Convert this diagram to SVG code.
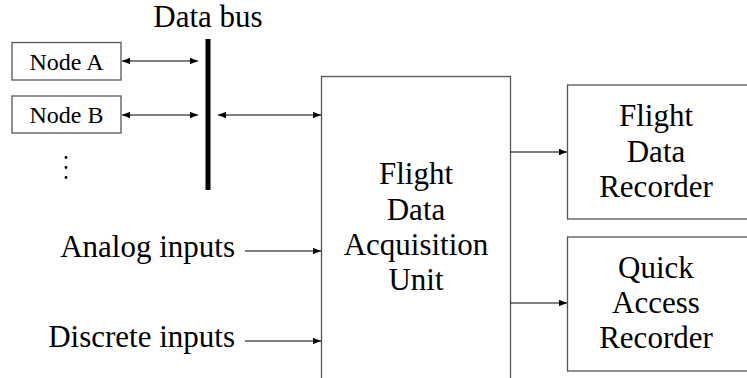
<svg xmlns="http://www.w3.org/2000/svg" width="747" height="378" viewBox="0 0 747 378">
<style>
.box{fill:#fff;stroke:#555;stroke-width:1.3}
.ln{stroke:#000;stroke-width:1.2;fill:none}
</style>
<defs>
<marker id="ah" viewBox="0 0 10 8" refX="10" refY="4" markerWidth="8" markerHeight="6.4" markerUnits="userSpaceOnUse" orient="auto-start-reverse">
<path d="M0,0 L10,4 L0,8 Z" fill="#000"/>
</marker>
</defs>
<g id="bus">
<text x="208" y="27" font-family="Liberation Serif" font-size="31" text-anchor="middle">Data bus</text>
<line x1="208" y1="39" x2="208" y2="190" stroke="#000" stroke-width="5"/>
</g>
<g id="nodeA">
<rect class="box" x="12" y="42.5" width="109" height="37.5"/>
<text x="66.5" y="69.5" font-family="Liberation Serif" font-size="24" text-anchor="middle">Node A</text>
</g>
<g id="nodeB">
<rect class="box" x="12" y="96" width="109" height="37"/>
<text x="66.5" y="123" font-family="Liberation Serif" font-size="24" text-anchor="middle">Node B</text>
</g>
<g id="dots">
<circle cx="66" cy="157.5" r="1.4"/>
<circle cx="66" cy="167.5" r="1.4"/>
<circle cx="66" cy="177.5" r="1.4"/>
</g>
<g id="fdau">
<rect class="box" x="321.5" y="76.5" width="189" height="320"/>
<text x="416" y="184" font-family="Liberation Serif" font-size="31" text-anchor="middle">Flight</text>
<text x="416" y="220" font-family="Liberation Serif" font-size="31" text-anchor="middle">Data</text>
<text x="416" y="255" font-family="Liberation Serif" font-size="31" text-anchor="middle">Acquisition</text>
<text x="416" y="290" font-family="Liberation Serif" font-size="31" text-anchor="middle">Unit</text>
</g>
<g id="fdr">
<rect class="box" x="567.5" y="85" width="200" height="134"/>
<text x="656" y="126" font-family="Liberation Serif" font-size="31" text-anchor="middle">Flight</text>
<text x="656" y="162" font-family="Liberation Serif" font-size="31" text-anchor="middle">Data</text>
<text x="656" y="197" font-family="Liberation Serif" font-size="31" text-anchor="middle">Recorder</text>
</g>
<g id="qar">
<rect class="box" x="567.5" y="237" width="200" height="134"/>
<text x="656" y="278" font-family="Liberation Serif" font-size="31" text-anchor="middle">Quick</text>
<text x="656" y="313" font-family="Liberation Serif" font-size="31" text-anchor="middle">Access</text>
<text x="656" y="348" font-family="Liberation Serif" font-size="31" text-anchor="middle">Recorder</text>
</g>
<g id="analog">
<text x="235" y="257" font-family="Liberation Serif" font-size="31" text-anchor="end">Analog inputs</text>
</g>
<g id="discrete">
<text x="235" y="347" font-family="Liberation Serif" font-size="31" text-anchor="end">Discrete inputs</text>
</g>
<g id="connectors">
<line class="ln" x1="122" y1="61" x2="198" y2="61" marker-start="url(#ah)" marker-end="url(#ah)"/>
<line class="ln" x1="122" y1="115" x2="198" y2="115" marker-start="url(#ah)" marker-end="url(#ah)"/>
<line class="ln" x1="218" y1="115" x2="321" y2="115" marker-start="url(#ah)" marker-end="url(#ah)"/>
<line class="ln" x1="245" y1="251" x2="321" y2="251" marker-end="url(#ah)"/>
<line class="ln" x1="245" y1="341" x2="321" y2="341" marker-end="url(#ah)"/>
<line class="ln" x1="510.5" y1="152" x2="567" y2="152" marker-end="url(#ah)"/>
<line class="ln" x1="510.5" y1="303" x2="567" y2="303" marker-end="url(#ah)"/>
</g>
</svg>
